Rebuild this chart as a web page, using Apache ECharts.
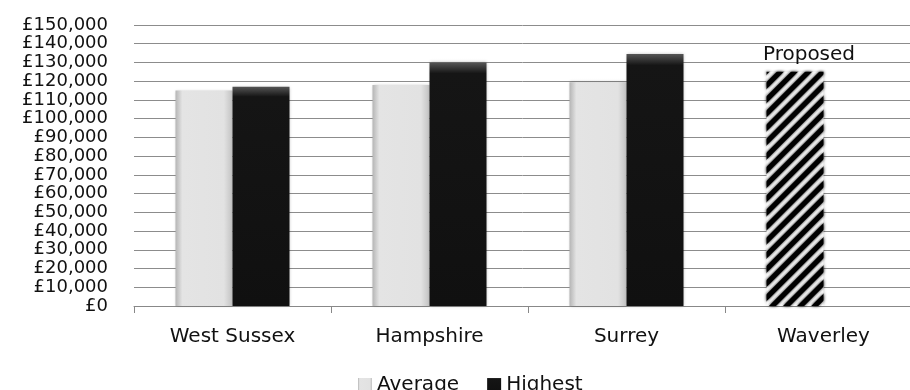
<!DOCTYPE html>
<html>
<head>
<meta charset="utf-8">
<script src="https://cdn.jsdelivr.net/npm/echarts@6/dist/echarts.min.js"></script>
<style>
  html, body { margin: 0; padding: 0; background: #fff; }
  #chart { width: 910px; height: 390px; }
</style>
</head>
<body>
<div id="chart"></div>
<script>
// County salary comparison
const categories = ['West Sussex', 'Hampshire', 'Surrey', 'Waverley'];
const averageValues = [115000, 118000, 119500, null];
const highestValues = [117000, 130000, 134500, null];
const proposedValues = [null, null, null, 125000];
const proposedLabel = 'Proposed';

const FONT = 'DejaVu Sans';

const avgColor = {
  type: 'linear', x: 0, y: 0, x2: 1, y2: 0,
  colorStops: [
    { offset: 0, color: '#b5b5b5' },
    { offset: 0.12, color: '#e4e4e4' },
    { offset: 0.85, color: '#e2e2e2' },
    { offset: 1, color: '#c2c2c2' }
  ]
};
const highColor = {
  type: 'linear', x: 0, y: 0, x2: 0, y2: 1,
  colorStops: [
    { offset: 0, color: '#555' },
    { offset: 0.045, color: '#151515' },
    { offset: 1, color: '#101010' }
  ]
};

// Average series; the Waverley slot carries the hatched proposed figure
const averageData = categories.map((c, i) => {
  if (proposedValues[i] != null) {
    return {
      value: proposedValues[i],
      itemStyle: {
        color: '#fff',
        decal: {
          symbol: 'rect', symbolSize: 1, color: '#000',
          dashArrayX: [1, 0], dashArrayY: [5, 5],
          rotation: -Math.PI / 4
        }
      },
      label: {
        show: true, position: 'top', formatter: proposedLabel,
        fontFamily: FONT, fontSize: 20, color: '#111',
        offset: [14, 0], distance: 7
      }
    };
  }
  return averageValues[i] == null ? '-' : averageValues[i];
});

const chart = echarts.init(document.getElementById('chart'), null, { renderer: 'canvas' });
chart.setOption({
  animation: false,
  backgroundColor: '#fff',
  grid: {
    left: 134, width: 788, top: 25, bottom: 84,
    containLabel: false, outerBoundsMode: 'none'
  },
  legend: {
    data: ['Average', 'Highest'],
    top: 370, left: 353,
    itemWidth: 14, itemHeight: 14, itemGap: 28,
    icon: 'rect',
    textStyle: { fontFamily: FONT, fontSize: 20, color: '#111' }
  },
  xAxis: {
    type: 'category',
    data: categories,
    axisLine: { lineStyle: { color: '#888', width: 1 } },
    axisTick: { show: true, length: 7, lineStyle: { color: '#888' } },
    axisLabel: { fontFamily: FONT, fontSize: 20, color: '#111', margin: 21 }
  },
  yAxis: {
    type: 'value',
    min: 0, max: 150000, interval: 10000,
    axisLine: { show: false },
    axisTick: { show: false },
    splitLine: { lineStyle: { color: '#8c8c8c', width: 1 } },
    axisLabel: {
      fontFamily: FONT, fontSize: 18, color: '#111', margin: 26,
      formatter: v => '£' + v.toLocaleString('en-GB')
    }
  },
  series: [
    {
      name: 'Average', type: 'bar', barWidth: 57, barGap: '0%',
      itemStyle: { color: avgColor, shadowColor: 'rgba(0,0,0,0.25)', shadowBlur: 3 },
      data: averageData
    },
    {
      name: 'Highest', type: 'bar', barWidth: 57, barGap: '0%',
      itemStyle: { color: highColor, shadowColor: 'rgba(0,0,0,0.25)', shadowBlur: 3 },
      data: highestValues.map(v => v == null ? '-' : v)
    }
  ]
});
</script>
</body>
</html>
